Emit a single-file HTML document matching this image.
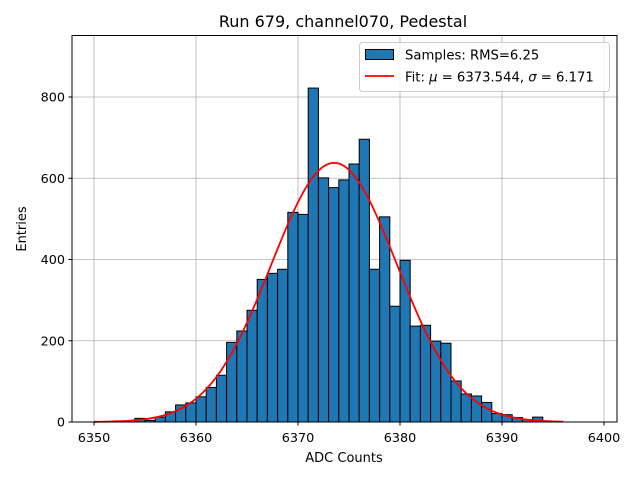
<!DOCTYPE html>
<html><head><meta charset="utf-8"><style>
body{margin:0;background:#fff}
svg{display:block;font-family:"DejaVu Sans","Liberation Sans",sans-serif}
</style></head><body>
<svg id="chart" width="640" height="480">
<text x="343" y="27" font-size="16" text-anchor="middle">Run 679, channel070, Pedestal</text>
<g id="grid"></g><g id="bars"></g><g id="fit"></g><g id="axes"></g>
<rect x="72" y="35.5" width="545" height="386.5" fill="none" stroke="#000" stroke-width="1"/>
<text x="344" y="462" font-size="13" text-anchor="middle">ADC Counts</text>
<text x="26" y="229" font-size="13" text-anchor="middle" transform="rotate(-90 26 229)">Entries</text>
<g>
<rect x="359.5" y="42.5" width="250" height="49" rx="3" fill="#fff" fill-opacity="0.8" stroke="#ccc"/>
<rect x="365.5" y="49.5" width="28" height="10" fill="#1f77b4" stroke="#000"/>
<text x="405" y="59.5" font-size="13.2">Samples: RMS=6.25</text>
<line x1="365" y1="76" x2="394" y2="76" stroke="red" stroke-width="1.8"/>
<text x="405" y="81.5" font-size="13.2">Fit: <tspan font-style="italic">μ</tspan> = 6373.544, <tspan font-style="italic">σ</tspan> = 6.171</text>
</g>
</svg>
<script>
const binStarts=[6354,6355,6356,6357,6358,6359,6360,6361,6362,6363,6364,6365,6366,6367,6368,6369,6370,6371,6372,6373,6374,6375,6376,6377,6378,6379,6380,6381,6382,6383,6384,6385,6386,6387,6388,6389,6390,6391,6392,6393];
const counts=[9,4,12,25,42,47,62,85,115,196,224,275,351,366,376,516,511,822,601,577,596,635,696,376,505,285,398,236,238,199,194,101,69,64,48,21,18,11,6,12];
const xTicks=[6350,6360,6370,6380,6390,6400];
const yTicks=[0,200,400,600,800];
const fitMu=6373.544, fitSigma=6.171, fitAmp=638;
const fitRange=[6350,6396];
const NS="http://www.w3.org/2000/svg";
const X=v=>94+(v-6350)*10.2;
const Y=v=>422-v*0.40625;
function mk(tag,attrs,parent){const e=document.createElementNS(NS,tag);for(const k in attrs)e.setAttribute(k,attrs[k]);parent.appendChild(e);return e;}
const grid=document.getElementById('grid'),axes=document.getElementById('axes'),bars=document.getElementById('bars'),fit=document.getElementById('fit');
xTicks.forEach(t=>{
  const g=mk('line',{x1:X(t),x2:X(t),y1:35,y2:422,stroke:'#b0b0b0','stroke-width':0.8},grid);
  
  
  const tk=mk('line',{x1:X(t),x2:X(t),y1:422,y2:425.5,stroke:'#000'},axes);
  
  
  const tx=mk('text',{x:X(t),y:442,'font-size':12.8,'text-anchor':'middle'},axes);
  tx.textContent=t;
  
  
});
yTicks.forEach(t=>{
  const g=mk('line',{x1:72,x2:617,y1:Y(t),y2:Y(t),stroke:'#b0b0b0','stroke-width':0.8},grid);
  
  
  const tk=mk('line',{x1:68.5,x2:72,y1:Y(t),y2:Y(t),stroke:'#000'},axes);
  
  
  const tx=mk('text',{x:65,y:Y(t)+4.5,'font-size':12.8,'text-anchor':'end'},axes);
  tx.textContent=t;
  
  
});
binStarts.forEach((b,i)=>{
  const r=mk('rect',{x:X(b),y:Y(counts[i]),width:X(b+1)-X(b),height:Y(0)-Y(counts[i]),fill:'#1f77b4',stroke:'#000','stroke-width':1},bars);
  
  
});
let d='';
for(let v=fitRange[0];v<=fitRange[1];v+=0.25){
  const y=fitAmp*Math.exp(-0.5*((v-fitMu)/fitSigma)**2);
  d+=(d?'L':'M')+X(v).toFixed(2)+','+Y(y).toFixed(2);
}
const p=mk('path',{d:d,fill:'none',stroke:'red','stroke-width':1.8},fit);


</script>
</body></html>
